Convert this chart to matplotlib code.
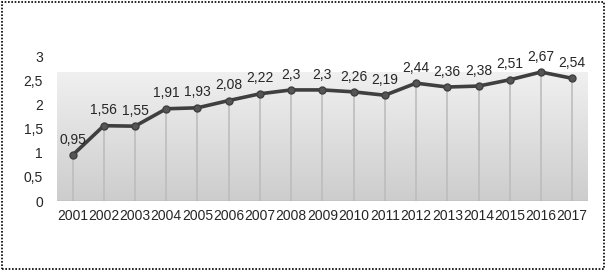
import numpy as np
import matplotlib
matplotlib.use('Agg')
import matplotlib.pyplot as plt
from matplotlib.patches import Rectangle

plt.rcParams['font.family'] = ['Liberation Sans', 'DejaVu Sans']

# datos
years = ['2001', '2002', '2003', '2004', '2005', '2006', '2007', '2008', '2009',
         '2010', '2011', '2012', '2013', '2014', '2015', '2016', '2017']
values = [0.95, 1.56, 1.55, 1.91, 1.93, 2.08, 2.22, 2.3, 2.3,
          2.26, 2.19, 2.44, 2.36, 2.38, 2.51, 2.67, 2.54]
yticks = [0, 0.5, 1, 1.5, 2, 2.5, 3]

def fmt(v):
    s = ('%.2f' % v).rstrip('0').rstrip('.')
    return s.replace('.', ',')

fig = plt.figure(figsize=(6.06, 2.71), dpi=100)
ax = fig.add_axes([0.094, 0.258, 0.876, 0.535])

x = np.arange(len(years))
ax.set_xlim(-0.5, len(years) - 0.5)
ax.set_ylim(0, 3)

# fondo degradado punteado
grad = np.linspace(0, 1, 100).reshape(-1, 1)
ax.imshow(grad, extent=(-0.5, len(years) - 0.5, 0, 2.65), aspect='auto',
          cmap=matplotlib.colors.LinearSegmentedColormap.from_list('g', ['#cdcdcd', '#f0f0f0']),
          origin='lower', zorder=0)

# líneas verticales
ax.vlines(x, 0, values, color='#bdbdbd', lw=1.2, zorder=1)
ax.axhline(0, color='#a8a8a8', lw=1, zorder=2)

ax.plot(x, values, color='#3f3f3f', lw=2.6, marker='o', ms=5,
        markerfacecolor='#555555', markeredgecolor='#3f3f3f', zorder=3)

for xi, v in zip(x, values):
    ax.annotate(fmt(v), (xi, v), xytext=(0, 6), textcoords='offset points',
                ha='center', va='bottom', fontsize=10, color='#262626')

ax.set_xticks(x)
ax.set_xticklabels(years, fontsize=10, color='#262626')
ax.set_yticks(yticks)
ax.set_yticklabels([fmt(t) for t in yticks], fontsize=10, color='#262626')
ax.tick_params(length=0, pad=6)
ax.tick_params(axis='y', pad=10)
for s in ax.spines.values():
    s.set_visible(False)

# borde punteado
fig.patches.append(Rectangle((0.003, 0.006), 0.993, 0.988, transform=fig.transFigure,
                             fill=False, ls=(0, (1, 1)), lw=1.2, ec='black'))

fig.savefig('out.png', dpi=100)
